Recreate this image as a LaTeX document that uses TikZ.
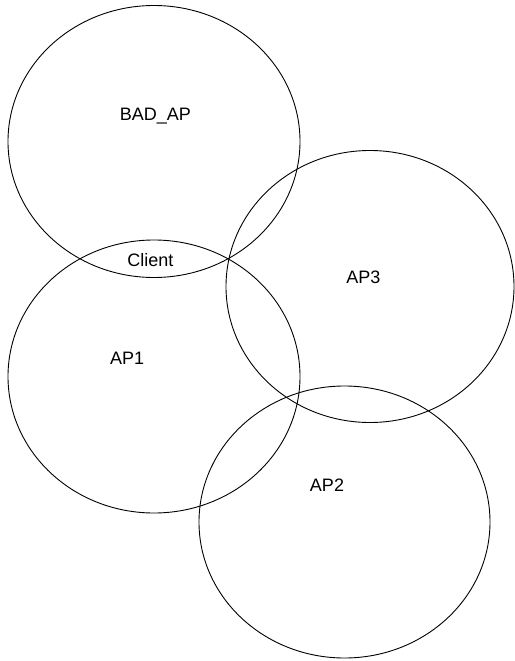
\documentclass[tikz,border=0pt]{standalone}
\usepackage{fontspec}
\setmainfont{Liberation Sans}
\usetikzlibrary{shapes.geometric}
\begin{document}
\begin{tikzpicture}[x=1pt,y=-1pt,
  zone/.style={ellipse,draw=black,line width=0.9pt,inner sep=0pt,minimum width=292pt,minimum height=272pt},
  lbl/.style={anchor=base,inner sep=0pt,font=\fontsize{18pt}{20pt}\selectfont}]
\useasboundingbox (0,0) rectangle (514,661);
\node[zone] (bad) at (154,141.5) {};
\node[zone,minimum height=273pt] (ap1) at (154,376.5) {};
\node[zone,minimum width=288pt] (ap3) at (370,286.5) {};
\node[zone,minimum width=291pt] (ap2) at (344.5,522) {};
\node[lbl] (tbad) at (155.3,120.5) {BAD\_AP};
\node[lbl] (tclient) at (150.3,266) {Client};
\node[lbl] (tap3) at (363.3,283.2) {AP3};
\node[lbl] (tap1) at (127.2,364.5) {AP1};
\node[lbl] (tap2) at (327,491.5) {AP2};
\end{tikzpicture}
\end{document}
